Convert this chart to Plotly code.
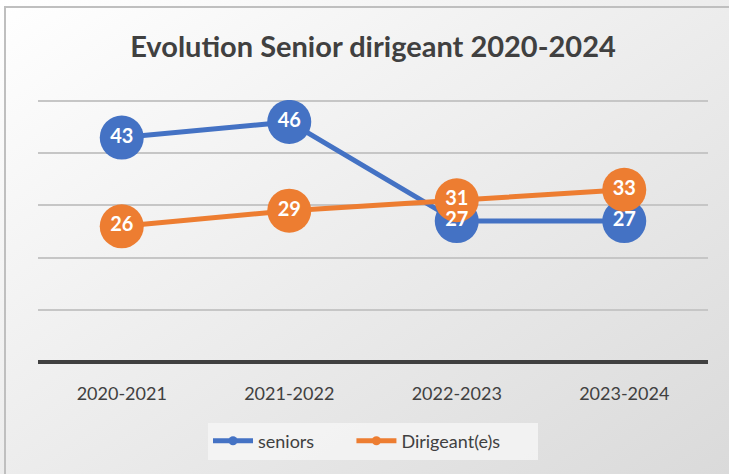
import plotly.graph_objects as go

categories = ["2020-2021", "2021-2022", "2022-2023", "2023-2024"]
seniors = [43, 46, 27, 27]
dirigeants = [26, 29, 31, 33]
series_names = ["seniors", "Dirigeant(e)s"]
title_text = "Evolution Senior dirigeant 2020-2024"

BLUE = "#4472C4"
ORANGE = "#ED7D31"
FONT = "Lato"

W, H = 729, 474
L, R, T, B = 38, 21, 100, 112
PW, PH = W - L - R, H - T - B

bg_svg = (
    "data:image/svg+xml;utf8,"
    "<svg xmlns='http://www.w3.org/2000/svg' width='729' height='474'>"
    "<defs><linearGradient id='g' x1='0' y1='0' x2='1' y2='1'>"
    "<stop offset='0' stop-color='%23ffffff'/>"
    "<stop offset='1' stop-color='%23dadada'/>"
    "</linearGradient></defs>"
    "<rect width='729' height='474' fill='url(%23g)'/></svg>"
)

fig = go.Figure()

for name, vals, col in [(series_names[0], seniors, BLUE), (series_names[1], dirigeants, ORANGE)]:
    fig.add_trace(go.Scatter(
        x=categories, y=vals, mode="lines+markers", name=name,
        line=dict(color=col, width=5),
        marker=dict(color=col, size=44),
        showlegend=False, hoverinfo="skip",
    ))

for name, vals in [(series_names[0], seniors), (series_names[1], dirigeants)]:
    fig.add_trace(go.Scatter(
        x=categories, y=vals, mode="text", text=[str(v) for v in vals],
        textposition="middle center",
        textfont=dict(family=FONT, size=20, color="white", weight="bold"),
        showlegend=False, hoverinfo="skip",
    ))

for name, col in [(series_names[0], BLUE), (series_names[1], ORANGE)]:
    fig.add_trace(go.Scatter(
        x=[None], y=[None], mode="lines+markers", name=name + "       ",
        line=dict(color=col, width=5), marker=dict(color=col, size=9),
    ))

fig.update_layout(
    width=W, height=H,
    margin=dict(l=L, r=R, t=T, b=B),
    paper_bgcolor="rgba(0,0,0,0)",
    plot_bgcolor="rgba(0,0,0,0)",
    title=dict(text=title_text, x=0.5, xref="paper", xanchor="center",
               y=1 - 47 / H, yanchor="middle",
               font=dict(family=FONT, size=29, color="#404040", weight="bold")),
    xaxis=dict(type="category", range=[-0.5, 3.5], showgrid=False,
               showline=False, ticks="", zeroline=False,
               tickfont=dict(family=FONT, size=18, color="#404040"),
               ticklabelstandoff=19),
    yaxis=dict(range=[0, 50.2], dtick=10, showticklabels=False,
               gridcolor="#c6c6c6", gridwidth=2, zeroline=True,
               zerolinecolor="#404040", zerolinewidth=3.5, showline=False),
    legend=dict(orientation="h", x=0.5, xanchor="center",
                y=(362 - 441) / PH, yanchor="middle",
                bgcolor="rgba(244,244,244,0.85)",
                font=dict(family=FONT, size=18, color="#404040"),
                itemwidth=40, tracegroupgap=0),
    images=[dict(source=bg_svg, xref="paper", yref="paper",
                 x=-L / PW, y=1 + T / PH, sizex=W / PW, sizey=H / PH,
                 xanchor="left", yanchor="top", sizing="stretch", layer="below")],
    shapes=[dict(type="rect", xref="paper", yref="paper",
                 x0=(5 - L) / PW, x1=(W + 10 - L) / PW,
                 y0=(362 - (H + 10)) / PH, y1=(362 - 7) / PH,
                 line=dict(color="#bfbfbf", width=2), fillcolor="rgba(0,0,0,0)",
                 layer="below")],
)

fig.write_html("out.html", config={"displayModeBar": False},
               post_script="document.body.style.margin='0';document.body.style.overflow='hidden';")
